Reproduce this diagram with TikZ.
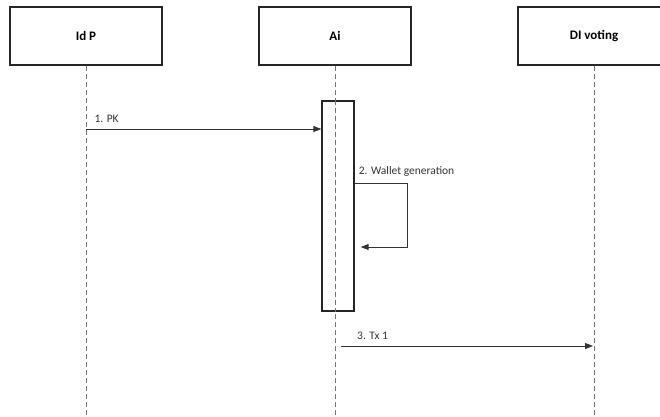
\documentclass[tikz,border=0pt]{standalone}
\usepackage{fontspec}
\setmainfont{Carlito}
\usetikzlibrary{positioning, arrows.meta, calc}

\begin{document}
\begin{tikzpicture}[
  x=1pt, y=-1pt,
  font=\fontsize{11.5}{13}\selectfont,
  actor/.style={draw=black!85, line width=1.3pt, fill=white, minimum width=152pt,
                minimum height=58pt, inner sep=0pt, font=\fontsize{13}{15}\selectfont\bfseries},
  life/.style={draw=black!55, line width=0.6pt, dash pattern=on 5pt off 3pt},
  activ/.style={draw=black!85, line width=1.3pt, fill=white, minimum width=32pt,
                minimum height=210pt, inner sep=0pt},
  msg/.style={-{Triangle[length=8pt, width=6pt]}, line width=1pt, draw=black!80},
  lbl/.style={text=black!80, inner sep=1pt}
]
\useasboundingbox (0,0) rectangle (660,416);

% participants
\node[actor] (idp) at (86,36) {Id P};
\node[actor] (ai) at (335,36) {Ai};
\node[actor] (dlt) at (594,36) {DI voting};

% lifelines
\coordinate (idp-end) at (86,416);
\coordinate (ai-end) at (335,416);
\coordinate (dlt-end) at (594,416);
\draw[life] (idp.south) -- (idp-end);
\draw[life] (dlt.south) -- (dlt-end);
\draw[life] (ai.south) -- (ai-end);

% activation bar on Ai
\node[activ] (act) at (338,206) {};
\draw[life] (ai.south |- act.north) -- (ai.south |- act.south);

% messages
\coordinate (m1) at (86,129);
\draw[msg] (m1) -- node[lbl, pos=0.03, anchor=south west, yshift=5pt]{1. PK} (act.west |- m1);

\coordinate (m2a) at (354,183);
\coordinate (m2b) at (407,247);
\draw[msg, shorten >=6pt] (act.east |- m2a) -| (m2b) -- (act.east |- m2b);
\node[lbl, anchor=south west] at ([xshift=3pt, yshift=5pt]act.east |- m2a) {2. Wallet generation};

\coordinate (m3) at (335,346);
\draw[msg, shorten <=6pt, shorten >=1pt] (m3) -- node[lbl, pos=0.08, anchor=south west, yshift=5pt]{3. Tx 1} (dlt-end |- m3);

\end{tikzpicture}
\end{document}
